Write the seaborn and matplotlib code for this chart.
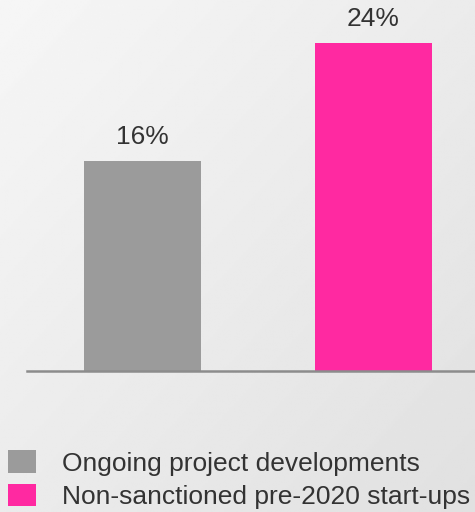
import numpy as np
import pandas as pd
import matplotlib
matplotlib.use("Agg")
import matplotlib.pyplot as plt
from matplotlib.patches import Patch
import seaborn as sns

categories = ["Ongoing project developments", "Non-sanctioned pre-2020 start-ups"]
values = [15.6, 24.4]
colors = ["#9b9b9b", "#ff29a1"]

sns.set_theme(style="white")
plt.rcParams["font.family"] = ["Liberation Sans", "DejaVu Sans"]

W, H, DPI = 475, 512, 100
fig = plt.figure(figsize=(W / DPI, H / DPI), dpi=DPI)

# diagonal gradient background
bg = fig.add_axes([0, 0, 1, 1], zorder=-10)
yy, xx = np.mgrid[0:1:200j, 0:1:200j]
t = (xx + yy) / 2.0
bg.imshow(0.965 - 0.085 * t, cmap="gray", vmin=0, vmax=1, aspect="auto",
          extent=[0, 1, 1, 0], interpolation="bilinear")
bg.set_axis_off()

ax = fig.add_axes([27 / W, 141 / H, 1 - 27 / W, 1 - 141 / H])
ax.set_facecolor("none")
df = pd.DataFrame({"cat": categories, "val": values})
sns.barplot(data=df, x="cat", y="val", hue="cat", palette=colors,
            width=0.51, legend=False, ax=ax, saturation=1, linewidth=0)
ax.set_xlim(-0.5, 1.44)
ax.set_ylim(0, 371 / (328 / 24.4))
for sp in ["top", "right", "left"]:
    ax.spines[sp].set_visible(False)
ax.spines["bottom"].set_color("#8c8c8c")
ax.spines["bottom"].set_linewidth(1.8)
ax.set_xticks([])
ax.set_yticks([])
ax.set_xlabel("")
ax.set_ylabel("")

for i, v in enumerate(values):
    ax.annotate(f"{v:.0f}%", (i, v), xytext=(0, 9), textcoords="offset points",
                ha="center", va="bottom", fontsize=19, color="#333333")

handles = [Patch(facecolor=c, edgecolor="none") for c in colors]
fig.legend(handles, categories, loc="lower left", bbox_to_anchor=(8 / W, 3 / H),
           frameon=False, fontsize=19, handlelength=1.06, handleheight=0.95,
           handletextpad=1.0, labelspacing=0.3, borderpad=0, borderaxespad=0,
           labelcolor="#333333")

fig.savefig("out.png", dpi=DPI)
